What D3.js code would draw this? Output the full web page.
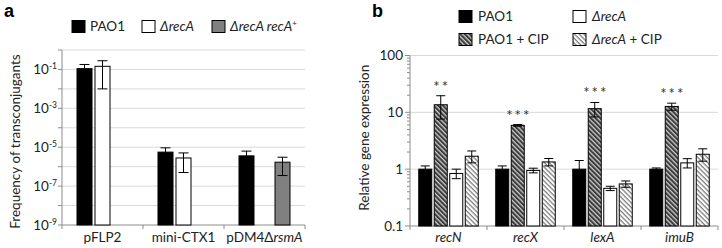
<!DOCTYPE html>
<html>
<head>
<meta charset="utf-8">
<script src="https://cdnjs.cloudflare.com/ajax/libs/d3/7.8.5/d3.min.js"></script>
<style>
  body { margin: 0; background: #fff; }
  svg { font-family: Lato, "Open Sans", sans-serif; }
</style>
</head>
<body>
<svg id="chart" width="722" height="248"></svg>
<script>
// ---- panel a data ----
const plasmids = ["pFLP2", "mini-CTX1", "pDM4\u0394rsmA"];
const strainsA = ["PAO1", "\u0394recA", "\u0394recA recA+"];
const freqPAO1 = [0.11, 5.6e-6, 3.6e-6];
const freqPAO1Sd = [0.07, 3.7e-6, 2.7e-6];
const freqRecA = [0.145, 2.8e-6, null];
const freqRecASd = [0.135, 2.3e-6, null];
const freqComp = [null, null, 1.7e-6];
const freqCompSd = [null, null, 1.35e-6];
const tickExpA = [-1, -3, -5, -7, -9];

// ---- panel b data ----
const genes = ["recN", "recX", "lexA", "imuB"];
const strainsB = ["PAO1", "\u0394recA", "PAO1 + CIP", "\u0394recA + CIP"];
const exprPAO1 = [1.0, 1.0, 1.0, 1.0];
const exprPAO1Sd = [0.14, 0.14, 0.42, 0.05];
const exprPAO1Cip = [13.6, 5.9, 11.6, 12.7];
const exprPAO1CipSd = [6.0, 0.2, 3.3, 1.8];
const exprRecA = [0.84, 0.95, 0.46, 1.29];
const exprRecASd = [0.16, 0.09, 0.04, 0.24];
const exprRecACip = [1.69, 1.34, 0.55, 1.83];
const exprRecACipSd = [0.4, 0.2, 0.07, 0.45];
const stars = ["**", "***", "***", "***"];
const tickB = [0.1, 1, 10, 100];

const svg = d3.select("#chart");
const defs = svg.append("defs");

function hatch(id, bg, fg) {
  const p = defs.append("pattern")
    .attr("id", id)
    .attr("patternUnits", "userSpaceOnUse")
    .attr("width", 8).attr("height", 3.3)
    .attr("patternTransform", "rotate(45)");
  p.append("rect").attr("width", 8).attr("height", 3.3).attr("fill", bg);
  p.append("rect").attr("width", 8).attr("height", 1.3).attr("fill", fg);
}
hatch("hDark", "#3c3c3c", "#c8c8c8");
hatch("hLight", "#ffffff", "#808080");

const gridCol = "#d9d9d9";
const axisCol = "#8c8c8c";

// ================= panel a =================
(function () {
  const left = 62, right = 305, top = 50, bottom = 225;
  const g = svg.append("g");

  const y = d3.scaleLog().domain([1e-9, 1]).range([bottom, top]);
  const x = d3.scaleBand().domain(plasmids).range([left, right]);
  const xs = d3.scaleBand().domain(strainsA).range([0, x.bandwidth()])
    .paddingInner(1 / 6).paddingOuter(0.833);

  // gridlines every decade
  const decades = d3.range(-9, 1).map(e => Math.pow(10, e));
  g.selectAll(".grid").data(decades.slice(1)).enter().append("line")
    .attr("x1", left).attr("x2", right)
    .attr("y1", d => y(d)).attr("y2", d => y(d))
    .attr("stroke", gridCol).attr("stroke-width", 1);

  // y axis
  g.append("line").attr("x1", left).attr("x2", left)
    .attr("y1", top).attr("y2", bottom).attr("stroke", axisCol);
  g.selectAll(".yt").data(decades).enter().append("line")
    .attr("x1", left - 4).attr("x2", left)
    .attr("y1", d => y(d)).attr("y2", d => y(d)).attr("stroke", axisCol);
  const lbl = g.selectAll(".yl").data(tickExpA).enter().append("text")
    .attr("x", left - 5).attr("y", d => y(Math.pow(10, d)) + 4.5)
    .attr("text-anchor", "end").attr("font-size", 13.5).attr("fill", "#222");
  lbl.append("tspan").text("10");
  lbl.append("tspan").attr("font-size", 8.5).attr("dy", -5).text(d => d < 0 ? "-" + (-d) : d);

  // x axis
  g.append("line").attr("x1", left).attr("x2", right)
    .attr("y1", bottom).attr("y2", bottom).attr("stroke", axisCol);
  g.selectAll(".xt").data(d3.range(plasmids.length + 1)).enter().append("line")
    .attr("x1", i => left + i * x.step()).attr("x2", i => left + i * x.step())
    .attr("y1", bottom).attr("y2", bottom + 4).attr("stroke", axisCol);
  g.selectAll(".xl").data(plasmids).enter().append("text")
    .attr("x", d => x(d) + x.bandwidth() / 2).attr("y", bottom + 17)
    .attr("text-anchor", "middle").attr("font-size", 13.5).attr("fill", "#222")
    .each(function (d) {
      const t = d3.select(this);
      if (d.indexOf("rsmA") > 0) {
        t.append("tspan").text("pDM4\u0394");
        t.append("tspan").attr("font-style", "italic").text("rsmA");
      } else t.text(d);
    });

  // bars
  const rows = [];
  plasmids.forEach((p, i) => {
    [[freqPAO1, freqPAO1Sd, "#000"], [freqRecA, freqRecASd, "#fff"], [freqComp, freqCompSd, "#808080"]]
      .forEach(([vals, sds, fill], j) => {
        if (vals[i] != null) rows.push({ p, s: strainsA[j], v: vals[i], sd: sds[i], fill });
      });
  });
  g.selectAll(".bar").data(rows).enter().append("rect")
    .attr("x", d => x(d.p) + xs(d.s)).attr("width", xs.bandwidth())
    .attr("y", d => y(d.v)).attr("height", d => bottom - y(d.v))
    .attr("fill", d => d.fill).attr("stroke", "#000").attr("stroke-width", 1);
  const eb = g.selectAll(".err").data(rows).enter().append("g");
  eb.append("line")
    .attr("x1", d => x(d.p) + xs(d.s) + xs.bandwidth() / 2)
    .attr("x2", d => x(d.p) + xs(d.s) + xs.bandwidth() / 2)
    .attr("y1", d => y(d.v + d.sd)).attr("y2", d => y(Math.max(d.v - d.sd, 1e-9)))
    .attr("stroke", "#000");
  ["up", "lo"].forEach(k => {
    eb.append("line")
      .attr("x1", d => x(d.p) + xs(d.s) + xs.bandwidth() / 2 - 5)
      .attr("x2", d => x(d.p) + xs(d.s) + xs.bandwidth() / 2 + 5)
      .attr("y1", d => y(k === "up" ? d.v + d.sd : d.v - d.sd))
      .attr("y2", d => y(k === "up" ? d.v + d.sd : d.v - d.sd))
      .attr("stroke", "#000");
  });

  // y label
  g.append("text").attr("transform", `translate(20,${(top + bottom) / 2 + 4}) rotate(-90)`)
    .attr("text-anchor", "middle").attr("font-size", 13.5).attr("fill", "#222")
    .text("Frequency of transconjugants");

  // legend
  const legX = [72, 142, 212];
  const fills = ["#000", "#fff", "#808080"];
  strainsA.forEach((s, i) => {
    g.append("rect").attr("x", legX[i]).attr("y", 20.5).attr("width", 13).attr("height", 12)
      .attr("fill", fills[i]).attr("stroke", "#000");
    const t = g.append("text").attr("x", legX[i] + 18).attr("y", 31)
      .attr("font-size", 13.5).attr("fill", "#222");
    if (i === 0) t.text(s);
    else if (i === 1) t.append("tspan").attr("font-style", "italic").text(s);
    else {
      t.append("tspan").attr("font-style", "italic").text("\u0394recA recA");
      t.append("tspan").attr("font-size", 8).attr("dy", -5).text("+");
    }
  });

  svg.append("text").attr("x", 4).attr("y", 17).attr("font-size", 18)
    .attr("font-weight", "bold").attr("font-family", "Liberation Sans, Arial, sans-serif").text("a");
})();

// ================= panel b =================
(function () {
  const left = 410, right = 718, top = 55.5, bottom = 226;
  const g = svg.append("g");

  const y = d3.scaleLog().domain([0.1, 100]).range([bottom, top]);
  const x = d3.scaleBand().domain(genes).range([left, right]);
  const order = ["PAO1", "PAO1 + CIP", "\u0394recA", "\u0394recA + CIP"];
  const xs = d3.scaleBand().domain(order).range([0, x.bandwidth()])
    .paddingInner(0.161).paddingOuter(0.564);

  // gridlines at decades
  g.selectAll(".grid").data(tickB.slice(1)).enter().append("line")
    .attr("x1", left).attr("x2", right)
    .attr("y1", d => y(d)).attr("y2", d => y(d))
    .attr("stroke", gridCol);

  // y axis with log minor ticks
  g.append("line").attr("x1", left).attr("x2", left)
    .attr("y1", top).attr("y2", bottom).attr("stroke", axisCol);
  const minors = y.ticks();
  g.selectAll(".ym").data(minors).enter().append("line")
    .attr("x1", d => tickB.includes(d) ? left - 5 : left - 3).attr("x2", left)
    .attr("y1", d => y(d)).attr("y2", d => y(d)).attr("stroke", axisCol);
  g.selectAll(".yl").data(tickB).enter().append("text")
    .attr("x", left - 7).attr("y", d => y(d) + 4.5)
    .attr("text-anchor", "end").attr("font-size", 13.5).attr("fill", "#222")
    .text(d => d);

  // x axis
  g.append("line").attr("x1", left).attr("x2", right)
    .attr("y1", bottom).attr("y2", bottom).attr("stroke", axisCol);
  g.selectAll(".xt").data(d3.range(genes.length + 1)).enter().append("line")
    .attr("x1", i => left + i * x.step()).attr("x2", i => left + i * x.step())
    .attr("y1", bottom).attr("y2", bottom + 4).attr("stroke", axisCol);
  g.selectAll(".xl").data(genes).enter().append("text")
    .attr("x", d => x(d) + x.bandwidth() / 2).attr("y", bottom + 16)
    .attr("text-anchor", "middle").attr("font-size", 13.5).attr("font-style", "italic")
    .attr("fill", "#222").text(d => d);

  const series = [
    { s: "PAO1", vals: exprPAO1, sds: exprPAO1Sd, fill: "#000" },
    { s: "PAO1 + CIP", vals: exprPAO1Cip, sds: exprPAO1CipSd, fill: "url(#hDark)" },
    { s: "\u0394recA", vals: exprRecA, sds: exprRecASd, fill: "#fff" },
    { s: "\u0394recA + CIP", vals: exprRecACip, sds: exprRecACipSd, fill: "url(#hLight)" }
  ];
  const rows = [];
  genes.forEach((gn, i) => series.forEach(sr =>
    rows.push({ gn, s: sr.s, v: sr.vals[i], sd: sr.sds[i], fill: sr.fill })));

  g.selectAll(".bar").data(rows).enter().append("rect")
    .attr("x", d => x(d.gn) + xs(d.s)).attr("width", xs.bandwidth())
    .attr("y", d => y(d.v)).attr("height", d => bottom - y(d.v))
    .attr("fill", d => d.fill).attr("stroke", "#000");
  const cx = d => x(d.gn) + xs(d.s) + xs.bandwidth() / 2;
  const eb = g.selectAll(".err").data(rows).enter().append("g");
  eb.append("line").attr("x1", cx).attr("x2", cx)
    .attr("y1", d => y(d.v + d.sd)).attr("y2", d => y(d.v - d.sd)).attr("stroke", "#000");
  [1, -1].forEach(k => {
    eb.append("line").attr("x1", d => cx(d) - 4.5).attr("x2", d => cx(d) + 4.5)
      .attr("y1", d => y(d.v + k * d.sd)).attr("y2", d => y(d.v + k * d.sd))
      .attr("stroke", "#000");
  });

  // significance stars above PAO1 + CIP
  g.selectAll(".star").data(genes).enter().append("text")
    .attr("x", (d, i) => x(d) + xs("PAO1 + CIP") + xs.bandwidth() / 2 + 1)
    .attr("y", (d, i) => y(exprPAO1Cip[i] + exprPAO1CipSd[i]) - 4)
    .attr("text-anchor", "middle").attr("font-size", 15).attr("letter-spacing", 2)
    .attr("fill", "#333").text((d, i) => stars[i]);

  // y label
  g.append("text").attr("transform", `translate(369,${(top + bottom) / 2 - 3}) rotate(-90)`)
    .attr("text-anchor", "middle").attr("font-size", 13.5).attr("fill", "#222")
    .text("Relative gene expression");

  // legend (2 rows)
  const legPos = [[459, 10], [573, 10], [459, 33], [573, 33]];
  const legFill = ["#000", "#fff", "url(#hDark)", "url(#hLight)"];
  strainsB.forEach((s, i) => {
    const [lx, ly] = legPos[i];
    g.append("rect").attr("x", lx).attr("y", ly + 0.5).attr("width", 13).attr("height", 12)
      .attr("fill", legFill[i]).attr("stroke", "#000");
    const t = g.append("text").attr("x", lx + 19).attr("y", ly + 11)
      .attr("font-size", 13.5).attr("fill", "#222");
    if (s.startsWith("\u0394")) {
      t.append("tspan").attr("font-style", "italic").text("\u0394recA");
      t.append("tspan").text(s.slice(5));
    } else t.text(s);
  });

  svg.append("text").attr("x", 372).attr("y", 17).attr("font-size", 18)
    .attr("font-weight", "bold").attr("font-family", "Liberation Sans, Arial, sans-serif").text("b");
})();
</script>
</body>
</html>
